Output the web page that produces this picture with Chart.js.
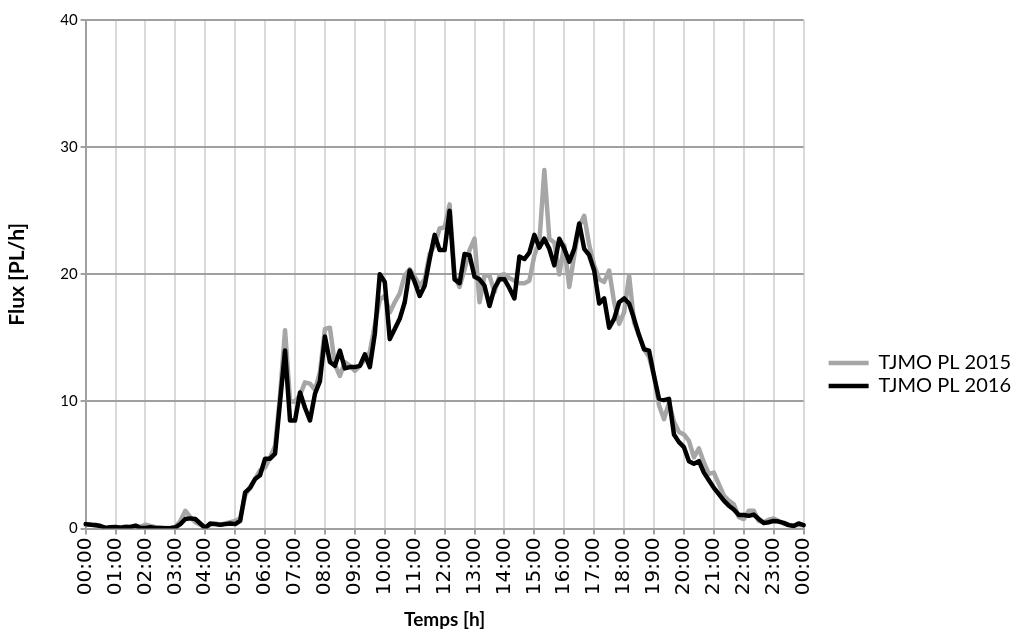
<!DOCTYPE html>
<html>
<head>
<meta charset="utf-8">
<script src="https://cdn.jsdelivr.net/npm/chart.js@4.4.1/dist/chart.umd.min.js"></script>
<style>
	body { margin: 0; background: #fff; }
	#wrap { width: 1022px; height: 633px; }
</style>
</head>
<body>
<div id="wrap"><canvas id="fluxChart"></canvas></div>
<script>
// Time of day in 10 minute steps, from 00:00 to 00:00 the next day
const times = [];
for (let m = 0; m <= 24 * 60; m += 10) {
	const h = String(Math.floor(m / 60) % 24).padStart(2, '0');
	const mm = String(m % 60).padStart(2, '0');
	times.push(h + ':' + mm);
}

// Flux PL/h, one row per hour (6 values of 10 min each)
const flux2015 = [
	0.3, 0.35, 0.2, 0.15, 0.05, 0.1,
	0.1, 0.1, 0.15, 0.1, 0.2, 0.15,
	0.3, 0.2, 0.1, 0.05, 0.05, 0.05,
	0.1, 0.6, 1.4, 0.9, 0.5, 0.3,
	0.1, 0.3, 0.4, 0.3, 0.4, 0.5,
	0.6, 0.8, 2.6, 3.3, 3.9, 4.6,
	4.8, 5.6, 6.5, 10.5, 15.6, 10.0,
	10.0, 10.5, 11.5, 11.4, 10.9, 12.3,
	15.7, 15.8, 12.9, 12.0, 13.1, 12.8,
	12.4, 12.8, 13.3, 13.9, 16.0, 18.0,
	18.3, 17.0, 17.8, 18.5, 19.9, 20.4,
	19.8, 19.1, 19.6, 21.6, 22.3, 23.6,
	23.7, 25.5, 19.9, 19.0, 20.4, 21.9,
	22.8, 17.8, 19.9, 19.9, 18.6, 19.9,
	20.0, 19.7, 19.5, 19.3, 19.3, 19.5,
	21.5, 22.5, 28.2, 22.8, 22.5, 20.0,
	22.3, 19.0, 21.5, 23.8, 24.6, 22.3,
	20.7, 19.6, 19.4, 20.3, 17.8, 16.1,
	17.0, 19.9, 16.2, 15.2, 14.1, 13.5,
	12.0, 9.7, 8.6, 9.9, 8.4, 7.6,
	7.4, 6.9, 5.6, 6.3, 5.2, 4.3,
	4.4, 3.5, 2.6, 2.2, 1.9, 0.9,
	0.75, 1.4, 1.4, 0.6, 0.5, 0.7,
	0.8, 0.6, 0.4, 0.3, 0.25, 0.3,
	0.25
];

const flux2016 = [
	0.35, 0.3, 0.28, 0.2, 0.05, 0.1,
	0.12, 0.07, 0.12, 0.12, 0.23, 0.05,
	0.05, 0.1, 0.05, 0.05, 0.03, 0.03,
	0.1, 0.35, 0.75, 0.8, 0.75, 0.4,
	0.05, 0.4, 0.35, 0.3, 0.35, 0.4,
	0.35, 0.6, 2.85, 3.2, 3.9, 4.2,
	5.5, 5.5, 5.9, 10.0, 14.0, 8.5,
	8.5, 10.7, 9.5, 8.5, 10.6, 11.6,
	15.1, 13.1, 12.8, 14.0, 12.6, 12.7,
	12.7, 12.8, 13.7, 12.7, 15.3, 20.0,
	19.4, 14.9, 15.7, 16.5, 17.8, 20.3,
	19.4, 18.3, 19.1, 21.2, 23.1, 21.9,
	21.9, 25.0, 19.6, 19.3, 21.6, 21.5,
	19.8, 19.6, 19.1, 17.5, 18.9, 19.6,
	19.6, 18.9, 18.1, 21.4, 21.2, 21.7,
	23.1, 22.1, 22.8, 22.0, 20.7, 22.8,
	22.0, 21.0, 22.0, 24.0, 22.0, 21.5,
	20.3, 17.7, 18.1, 15.8, 16.5, 17.8,
	18.1, 17.7, 16.5, 15.2, 14.1, 14.0,
	12.0, 10.2, 10.1, 10.2, 7.4, 6.8,
	6.4, 5.3, 5.1, 5.3, 4.4, 3.8,
	3.2, 2.7, 2.2, 1.8, 1.5, 1.06,
	1.06, 1.0, 1.1, 0.75, 0.43, 0.5,
	0.6, 0.55, 0.45, 0.27, 0.2, 0.4,
	0.27
];

const FONT = 'Lato, "Open Sans", sans-serif';

// the legend sits lower than the middle and a little away from the plot
const legendShift = {
	id: 'legendShift',
	afterLayout(chart) {
		const l = chart.legend;
		l.top += 49;
		l.bottom += 49;
		l.left += 22;
		l.right += 22;
	}
};

new Chart(document.getElementById('fluxChart'), {
	type: 'line',
	data: {
		labels: times,
		datasets: [
			{
				label: 'TJMO PL 2015',
				data: flux2015,
				borderColor: '#a6a6a6',
				backgroundColor: '#a6a6a6',
				borderWidth: 4.5,
				order: 2,
			},
			{
				label: 'TJMO PL 2016',
				data: flux2016,
				borderColor: '#000000',
				backgroundColor: '#000000',
				borderWidth: 4.5,
				order: 1,
			},
		],
	},
	options: {
		responsive: true,
		maintainAspectRatio: false,
		animation: false,
		elements: {
			point: { radius: 0 },
			line: { tension: 0, borderJoinStyle: 'round', borderCapStyle: 'round' },
		},
		layout: {
			padding: { top: 20, right: 23, bottom: 2, left: 5 },
		},
		plugins: {
			tooltip: { enabled: false },
			legend: {
				position: 'right',
				labels: {
					usePointStyle: true,
					pointStyle: 'line',
					pointStyleWidth: 40,
					color: '#000',
					font: { family: FONT, size: 20 },
					padding: 3,
					sort: (a, b) => a.datasetIndex - b.datasetIndex,
				},
			},
		},
		scales: {
			x: {
				type: 'category',
				afterBuildTicks: axis => {
					// only one tick per hour
					axis.ticks = axis.ticks.filter(t => t.value % 6 === 0);
				},
				ticks: {
					autoSkip: false,
					minRotation: 90,
					maxRotation: 90,
					color: '#000',
					font: { family: '"DejaVu Sans", sans-serif', size: 20 },
					padding: 3,
				},
				grid: {
					color: '#d9d9d9',
					lineWidth: 2,
					tickColor: '#a0a0a0',
					tickLength: 6,
				},
				border: { color: '#a0a0a0', width: 2 },
				title: {
					display: true,
					text: 'Temps [h]',
					color: '#000',
					font: { family: FONT, size: 19, weight: 'bold' },
					padding: { top: 10, bottom: 0 },
				},
			},
			y: {
				min: 0,
				max: 40,
				ticks: {
					stepSize: 10,
					color: '#000',
					font: { family: FONT, size: 15 },
					padding: 3,
				},
				grid: {
					color: '#a0a0a0',
					lineWidth: 2,
					tickLength: 5,
				},
				border: { color: '#a0a0a0', width: 2 },
				title: {
					display: true,
					text: 'Flux [PL/h]',
					color: '#000',
					font: { family: FONT, size: 21, weight: 'bold' },
					padding: { top: 0, bottom: 27 },
				},
			},
		},
	},
	plugins: [legendShift],
});
</script>
</body>
</html>
